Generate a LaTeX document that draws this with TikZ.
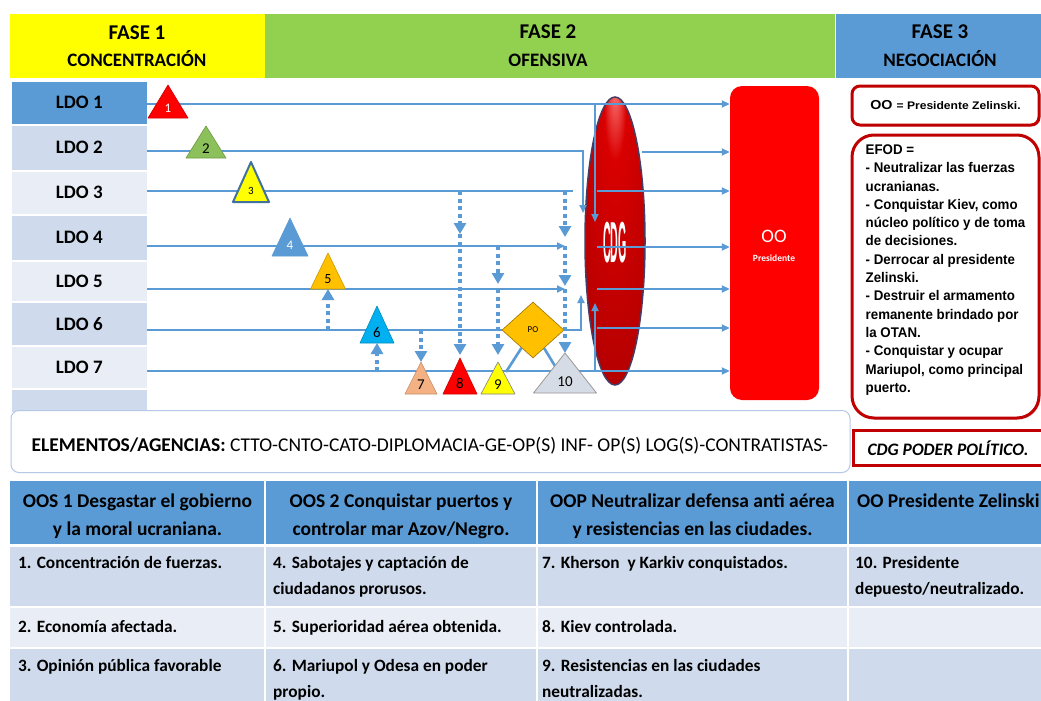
\documentclass[tikz,border=0pt]{standalone}
\usepackage{fontspec}
\setmainfont{Carlito}
\newfontfamily\estrecha[FakeStretch=0.95]{Liberation Sans}
\newfontfamily\ancha[FakeStretch=1.1]{Liberation Sans}
\usepackage{graphicx}
\usetikzlibrary{shapes.geometric,arrows.meta,positioning,shadows,calc}

\definecolor{amarillo}{HTML}{FFFF00}
\definecolor{verde}{HTML}{92D050}
\definecolor{azul}{HTML}{5B9BD5}
\definecolor{azulosc}{HTML}{41719C}
\definecolor{filaA}{HTML}{CFDBEC}
\definecolor{filaB}{HTML}{E9EEF6}
\definecolor{naranja}{HTML}{FFC000}
\definecolor{celeste}{HTML}{00B0F0}
\definecolor{durazno}{HTML}{F4B183}
\definecolor{gris}{HTML}{D6DCE5}
\definecolor{verdetri}{HTML}{8CC05A}
\definecolor{rojo}{HTML}{FF0000}
\definecolor{rojoosc}{HTML}{C00000}
\definecolor{borde}{HTML}{B4C7E7}

\pgfdeclareradialshading{cdgbrillo}{\pgfpoint{0bp}{28bp}}{%
  color(0bp)=(red!50!white); color(9bp)=(red!85!black); color(25bp)=(red!76!black);
  color(40bp)=(red!68!black); color(50bp)=(red!40!black)}

% hitos: numero / x / y apice / y base / semiancho / relleno / borde / texto / tamano / grosor
\def\hitos{1/168/85/118/20/rojo/rojo!80!black/white/13/0.6,%
2/206/126/158/20/verdetri/verdetri!80!black/black/15/0.6,%
3/251/162/202/18/amarillo/azulosc/black/11/2,%
4/290/218/256/18/azul/azul/white/13/0.6,%
5/328/253/289/17.5/naranja/naranja!80!black/black/14/0.6,%
6/377/306/343/17/celeste/celeste!80!black/black/15/0.6,%
7/421/362/394/16/durazno/durazno!80!black/black/15/0.6,%
8/460/358/394/17/rojo/rojo!80!black/black/15/0.6,%
9/498/362/394/17/amarillo/gray/black/15/0.6,%
10/565/353/393/31.5/gris/gray!80/black/15/0.8}

\begin{document}
\begin{tikzpicture}[x=1pt,y=-1pt,
  linea/.style={azul, line width=1.8pt},
  flecha/.style={linea, -{Triangle[width=7pt,length=8pt]}},
  punteada/.style={azul, line width=4pt, dash pattern=on 4pt off 3.5pt, -{Triangle[width=12pt,length=11pt]}},
  fila/.style={draw=white, line width=1.5pt, minimum width=137pt, inner sep=0pt, anchor=north west, font=\fontsize{19}{19}\selectfont\bfseries},
  caja/.style={draw=rojoosc, line width=3pt, fill=white, drop shadow={opacity=0.3, shadow xshift=1.5pt, shadow yshift=-1.5pt}},
  celda/.style={font=\fontsize{17.3}{26}\selectfont\bfseries, anchor=north west, align=left, inner sep=0pt},
  encabezado/.style={font=\fontsize{19.5}{28}\selectfont\bfseries, align=center, inner sep=0pt}
]
\useasboundingbox (0,0) rectangle (1041,701);
\fill[white] (0,0) rectangle (1041,701);

% fases
\fill[amarillo] (10,14) rectangle (265,78);
\fill[verde] (265,14) rectangle (835,78);
\fill[azul] (836,14) rectangle (1041,78);
\node[font=\fontsize{21}{21}\selectfont\bfseries] (f1) at (137,33) {FASE 1};
\node[font=\fontsize{19}{19}\selectfont\bfseries] (f1b) at (137,59) {CONCENTRACIÓN};
\node[font=\fontsize{21}{21}\selectfont\bfseries] (f2) at (548,32) {FASE 2};
\node[font=\fontsize{19}{19}\selectfont\bfseries] (f2b) at (548,60) {OFENSIVA};
\node[font=\fontsize{21}{21}\selectfont\bfseries] (f3) at (940,32) {FASE 3};
\node[font=\fontsize{19}{19}\selectfont\bfseries] (f3b) at (940,59) {NEGOCIACIÓN};

% lineas de operaciones (columna)
\foreach \n/\ya/\yb/\c in {1/80/124/azul, 2/124/170/filaA, 3/170/214/filaB, 4/214/260/filaA, 5/260/301/filaB, 6/301/345/filaA, 7/345/388/filaB}
  \node[fila, fill=\c, minimum height=\yb-\ya] (ldo\n) at (10,\ya) {LDO \n};
\node[fila, fill=filaA, minimum height=24] (ldo8) at (10,388) {};

% centro de gravedad
\node[ellipse, shade, shading=cdgbrillo, draw={rgb,255:red,70;green,60;blue,100}, line width=1.5pt,
  minimum width=60pt, minimum height=288pt, inner sep=0pt] (cdg) at (615,241) {};
\node[text=white, inner sep=0pt] (cdgtxt) at (615,243) {\scalebox{0.66}[3.4]{\estrecha\bfseries\fontsize{17}{17}\selectfont CDG}};

% objetivo operacional
\node[fill=rojo, rounded corners=12pt, minimum width=89pt, minimum height=314pt, inner sep=0pt] (oo) at (774.5,243) {};
\node[text=white, font=\fontsize{19}{19}\selectfont] (ootxt) at (774,236) {OO};
\node[text=white, font=\fontsize{9.5}{10}\selectfont\bfseries] (oopres) at (774,258) {Presidente};

% puntos de partida y quiebres
\foreach \i/\y in {1/104,2/151,3/191,4/246,5/289,6/330,7/371}
  \coordinate (s\i) at (147,\y);
\foreach \n/\hx/\ya/\yb/\w/\fil/\bor/\tx/\fs/\lw in \hitos{
  \coordinate (a\n) at (\hx,\ya);
  \coordinate (b\n) at (\hx,\yb);
}
\coordinate (k1) at (595,104);   \coordinate (k1b) at (595,222);
\coordinate (j2) at (583,151);   \coordinate (e2) at (583,213);
\coordinate (j3) at (573,191);
\coordinate (j6) at (581,330);   \coordinate (e6) at (581,295);
\coordinate (k7) at (595,371);   \coordinate (k7b) at (595,303);
\coordinate (r2) at (642,152);
\coordinate (r3) at (597,191);
\coordinate (r4) at (597,247);
\coordinate (r5) at (597,289);
\coordinate (r6) at (597,328);
\coordinate (p9) at (506,372);
\coordinate (p10) at (555,366);

% punto de decision
\node[diamond, fill=naranja, draw=naranja!60!black, line width=0.6pt, minimum width=62pt, minimum height=56pt,
  inner sep=0pt, font=\fontsize{9}{9}\selectfont] (po) at (533,330) {PO};

% lineas
\draw[flecha] (s1) -- (s1 -| oo.west);
\draw[flecha] (k1) -- (k1b);
\draw[flecha] (s2) -- (j2) -- (e2);
\draw[linea] (s3) -- (j3);
\draw[flecha] (s4) -- (a10 |- s4);
\draw[flecha] (s5) -- (a10 |- s5);
\draw[linea] (s6) -- (po.west);
\draw[flecha] (po.east) -- (j6) -- (e6);
\draw[flecha] (s7) -- (s7 -| oo.west);
\draw[flecha] (k7) -- (k7b);
\foreach \i in {2,...,6}
  \draw[flecha] (r\i) -- (r\i -| oo.west);
\draw[linea, line width=2.6pt] (po) -- (p9);
\draw[linea, line width=2.6pt] (po) -- (p10);

% apoyos entre hitos
\draw[punteada] (b5 |- s6) -- (b5);
\draw[punteada] (b6 |- s7) -- (b6);
\draw[punteada] (a7 |- s6) -- (a7);
\draw[punteada] (a8 |- s3) -- ($(a8 |- s4)+(0,-12)$);
\draw[punteada] ($(a8 |- s4)+(0,-12)$) -- ($(a8)+(0,-3)$);
\draw[punteada] (a9 |- s4) -- ($(a9 |- s5)+(0,-5)$);
\draw[punteada] (a9 |- s5) -- ($(a9)+(0,-7)$);
\draw[punteada] (a10 |- s3) -- ($(a10 |- s4)+(0,-9)$);
\draw[punteada] (a10 |- s4) -- ($(a10 |- s5)+(0,-3)$);
\draw[punteada] (a10 |- s5) -- (a10);

% hitos
\foreach \n/\hx/\ya/\yb/\w/\fil/\bor/\tx/\fs/\lw in \hitos{
  \draw[fill=\fil, draw=\bor, line width=\lw pt, line join=round] (\hx-\w,\yb) -- (a\n) -- (\hx+\w,\yb) -- cycle;
  \node[text=\tx, font=\fontsize{\fs}{\fs}\selectfont, inner sep=0pt] (h\n) at (\hx,{\ya+0.72*(\yb-\ya)}) {\n};
}

% recuadros de la derecha
\node[caja, rounded corners=8pt, minimum width=187pt, minimum height=39pt] (oodef) at (945.5,105.5)
  {\ancha\bfseries\fontsize{13}{13}\selectfont OO \fontsize{11}{11}\selectfont= Presidente Zelinski.};
\node[caja, rounded corners=22pt, minimum width=187pt, minimum height=283pt] (efod) at (945.5,276.5) {};
\node[align=left, inner sep=0pt, font=\estrecha\bfseries\fontsize{14}{18.3}\selectfont] (efodtxt) at (945.5,270)
  {EFOD =\\- Neutralizar las fuerzas\\ucranianas.\\- Conquistar Kiev, como\\núcleo político y de toma\\de decisiones.\\- Derrocar al presidente\\Zelinski.\\- Destruir el armamento\\remanente brindado por\\la OTAN.\\- Conquistar y ocupar\\Mariupol, como principal\\puerto.};
\node[draw=rojoosc, line width=3pt, fill=white, minimum width=195pt, minimum height=35pt, anchor=west] (cdgdef) at (852,447.5) {};
\node[font=\fontsize{17.5}{18}\selectfont\bfseries\itshape] (cdgdeftxt) at (948,448) {CDG PODER POLÍTICO.};

% elementos
\node[draw=borde, line width=1pt, rounded corners=8pt, fill=white, minimum width=839pt, minimum height=62pt] (elem) at (430.5,441.5) {};
\node[font=\fontsize{19.5}{20}\selectfont] (elemtxt) at (430,446) {\textbf{ELEMENTOS/AGENCIAS:} CTTO-CNTO-CATO-DIPLOMACIA-GE-OP(S) INF- OP(S) LOG(S)-CONTRATISTAS-};

% tabla de objetivos
\foreach \xa/\xb in {10/265, 265/537, 537/848, 848/1045}{
  \fill[azul] (\xa,481) rectangle (\xb,545);
  \fill[filaA] (\xa,545) rectangle (\xb,607);
  \fill[filaB] (\xa,607) rectangle (\xb,648);
  \fill[filaA] (\xa,648) rectangle (\xb,705);
}
\foreach \x in {265,537,848}
  \draw[white, line width=1.5pt] (\x,481) -- (\x,705);
\foreach \y in {607,648}
  \draw[white, line width=1.5pt] (10,\y) -- (1045,\y);
\draw[white, line width=3pt] (10,545) -- (1045,545);

\node[encabezado] (oos1) at (137.5,516) {OOS 1 Desgastar el gobierno\\y la moral ucraniana.};
\node[encabezado] (oos2) at (401,516) {OOS 2 Conquistar puertos y\\controlar mar Azov/Negro.};
\node[encabezado] (oop) at (692.5,516) {OOP Neutralizar defensa anti aérea\\y resistencias en las ciudades.};
\node[encabezado, anchor=west] (ootab) at (857,501) {OO Presidente Zelinski};

\node[celda] (t1) at (18,550) {\strut 1. Concentración de fuerzas.};
\node[celda] (t4) at (273,550) {\strut 4. Sabotajes y captación de\\ciudadanos prorusos.};
\node[celda] (t7) at (542,550) {\strut 7. Kherson~ y Karkiv conquistados.};
\node[celda] (t10) at (855,550) {\strut 10. Presidente\\depuesto/neutralizado.};
\node[celda] (t2) at (18,614) {\strut 2. Economía afectada.};
\node[celda] (t5) at (273,614) {\strut 5. Superioridad aérea obtenida.};
\node[celda] (t8) at (542,614) {\strut 8. Kiev controlada.};
\node[celda] (t3) at (18,653) {\strut 3. Opinión pública favorable};
\node[celda] (t6) at (273,653) {\strut 6. Mariupol y Odesa en poder\\propio.};
\node[celda] (t9) at (542,653) {\strut 9. Resistencias en las ciudades\\neutralizadas.};
\end{tikzpicture}
\end{document}
